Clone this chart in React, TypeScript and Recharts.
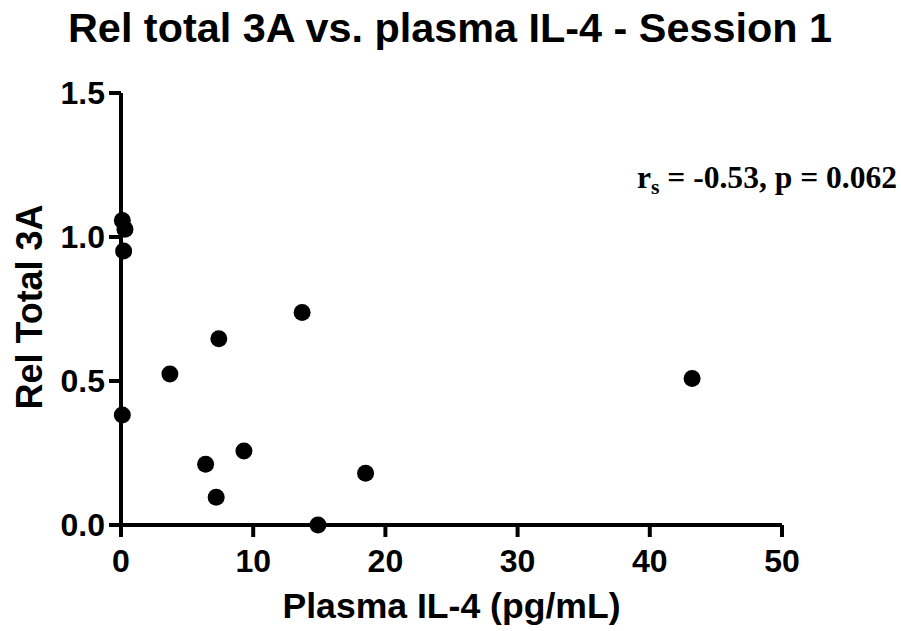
import React from 'react'
import { ScatterChart, Scatter, XAxis, YAxis, Label } from 'recharts'

const il4 = [0.1, 0.3, 0.2, 0.1, 3.7, 7.4, 6.4, 7.2, 9.3, 13.7, 14.9, 18.5, 43.2]
const relTotal3A = [1.057, 1.027, 0.951, 0.382, 0.524, 0.647, 0.211, 0.096, 0.257, 0.738, 0.0, 0.18, 0.509]
const xTicks = [0, 10, 20, 30, 40, 50]
const yTicks = [0, 0.5, 1.0, 1.5]

const data = il4.map((x, i) => ({ x, y: relTotal3A[i] }))

const sans = '"Liberation Sans", Arial, sans-serif'
const serif = '"Liberation Serif", "Times New Roman", serif'

function Dot(props: any) {
  return <circle cx={props.cx} cy={props.cy} r={8.5} fill="#000" />
}

export default function App() {
  const tickStyle = { fontSize: 32, fontWeight: 700, fill: '#000', fontFamily: sans }
  const lineStyle = { stroke: '#000', strokeWidth: 4 }
  return (
    <div style={{ position: 'absolute', left: 0, top: 0, width: 901, height: 631, background: '#fff' }}>
      <ScatterChart width={901} height={631} margin={{ top: 93, right: 119, bottom: 6, left: 0 }}>
        <XAxis
          type="number"
          dataKey="x"
          domain={[0, 50]}
          ticks={xTicks}
          interval={0}
          height={100}
          axisLine={lineStyle}
          tickLine={lineStyle}
          tickSize={12}
          tickMargin={12}
          tick={tickStyle}
        >
          <Label
            content={({ viewBox }: any) => (
              <text
                x={viewBox.x + viewBox.width / 2}
                y={618}
                textAnchor="middle"
                fontSize={35}
                fontWeight={700}
                fontFamily={sans}
                fill="#000"
                textLength={338}
                lengthAdjust="spacingAndGlyphs"
              >
                Plasma IL-4 (pg/mL)
              </text>
            )}
          />
        </XAxis>
        <YAxis
          type="number"
          dataKey="y"
          domain={[0, 1.5]}
          ticks={yTicks}
          interval={0}
          width={121}
          axisLine={lineStyle}
          tickLine={lineStyle}
          tickSize={12}
          tickMargin={4}
          tickFormatter={(v: number) => v.toFixed(1)}
          tick={tickStyle}
        >
          <Label
            content={({ viewBox }: any) => {
              const cy = viewBox.y + viewBox.height / 2 - 2
              return (
                <text
                  x={42}
                  y={cy}
                  transform={`rotate(-90 42 ${cy})`}
                  textAnchor="middle"
                  fontSize={36}
                  fontWeight={700}
                  fontFamily={sans}
                  fill="#000"
                  textLength={205}
                  lengthAdjust="spacingAndGlyphs"
                >
                  Rel Total 3A
                </text>
              )
            }}
          />
        </YAxis>
        <Scatter data={data} shape={<Dot />} isAnimationActive={false} />
      </ScatterChart>
      <svg width={901} height={631} style={{ position: 'absolute', left: 0, top: 0, pointerEvents: 'none' }}>
        <text
          x={450}
          y={42}
          textAnchor="middle"
          fontSize={40}
          fontWeight={700}
          fontFamily={sans}
          fill="#000"
          textLength={764}
          lengthAdjust="spacingAndGlyphs"
        >
          Rel total 3A vs. plasma IL-4 - Session 1
        </text>
        <text
          x={637}
          y={188}
          fontSize={32}
          fontWeight={700}
          fontFamily={serif}
          fill="#000"
          textLength={260}
          lengthAdjust="spacingAndGlyphs"
        >
          r<tspan fontSize={22} dy={6}>s</tspan>
          <tspan dy={-6}> = -0.53, p = 0.062</tspan>
        </text>
      </svg>
    </div>
  )
}
